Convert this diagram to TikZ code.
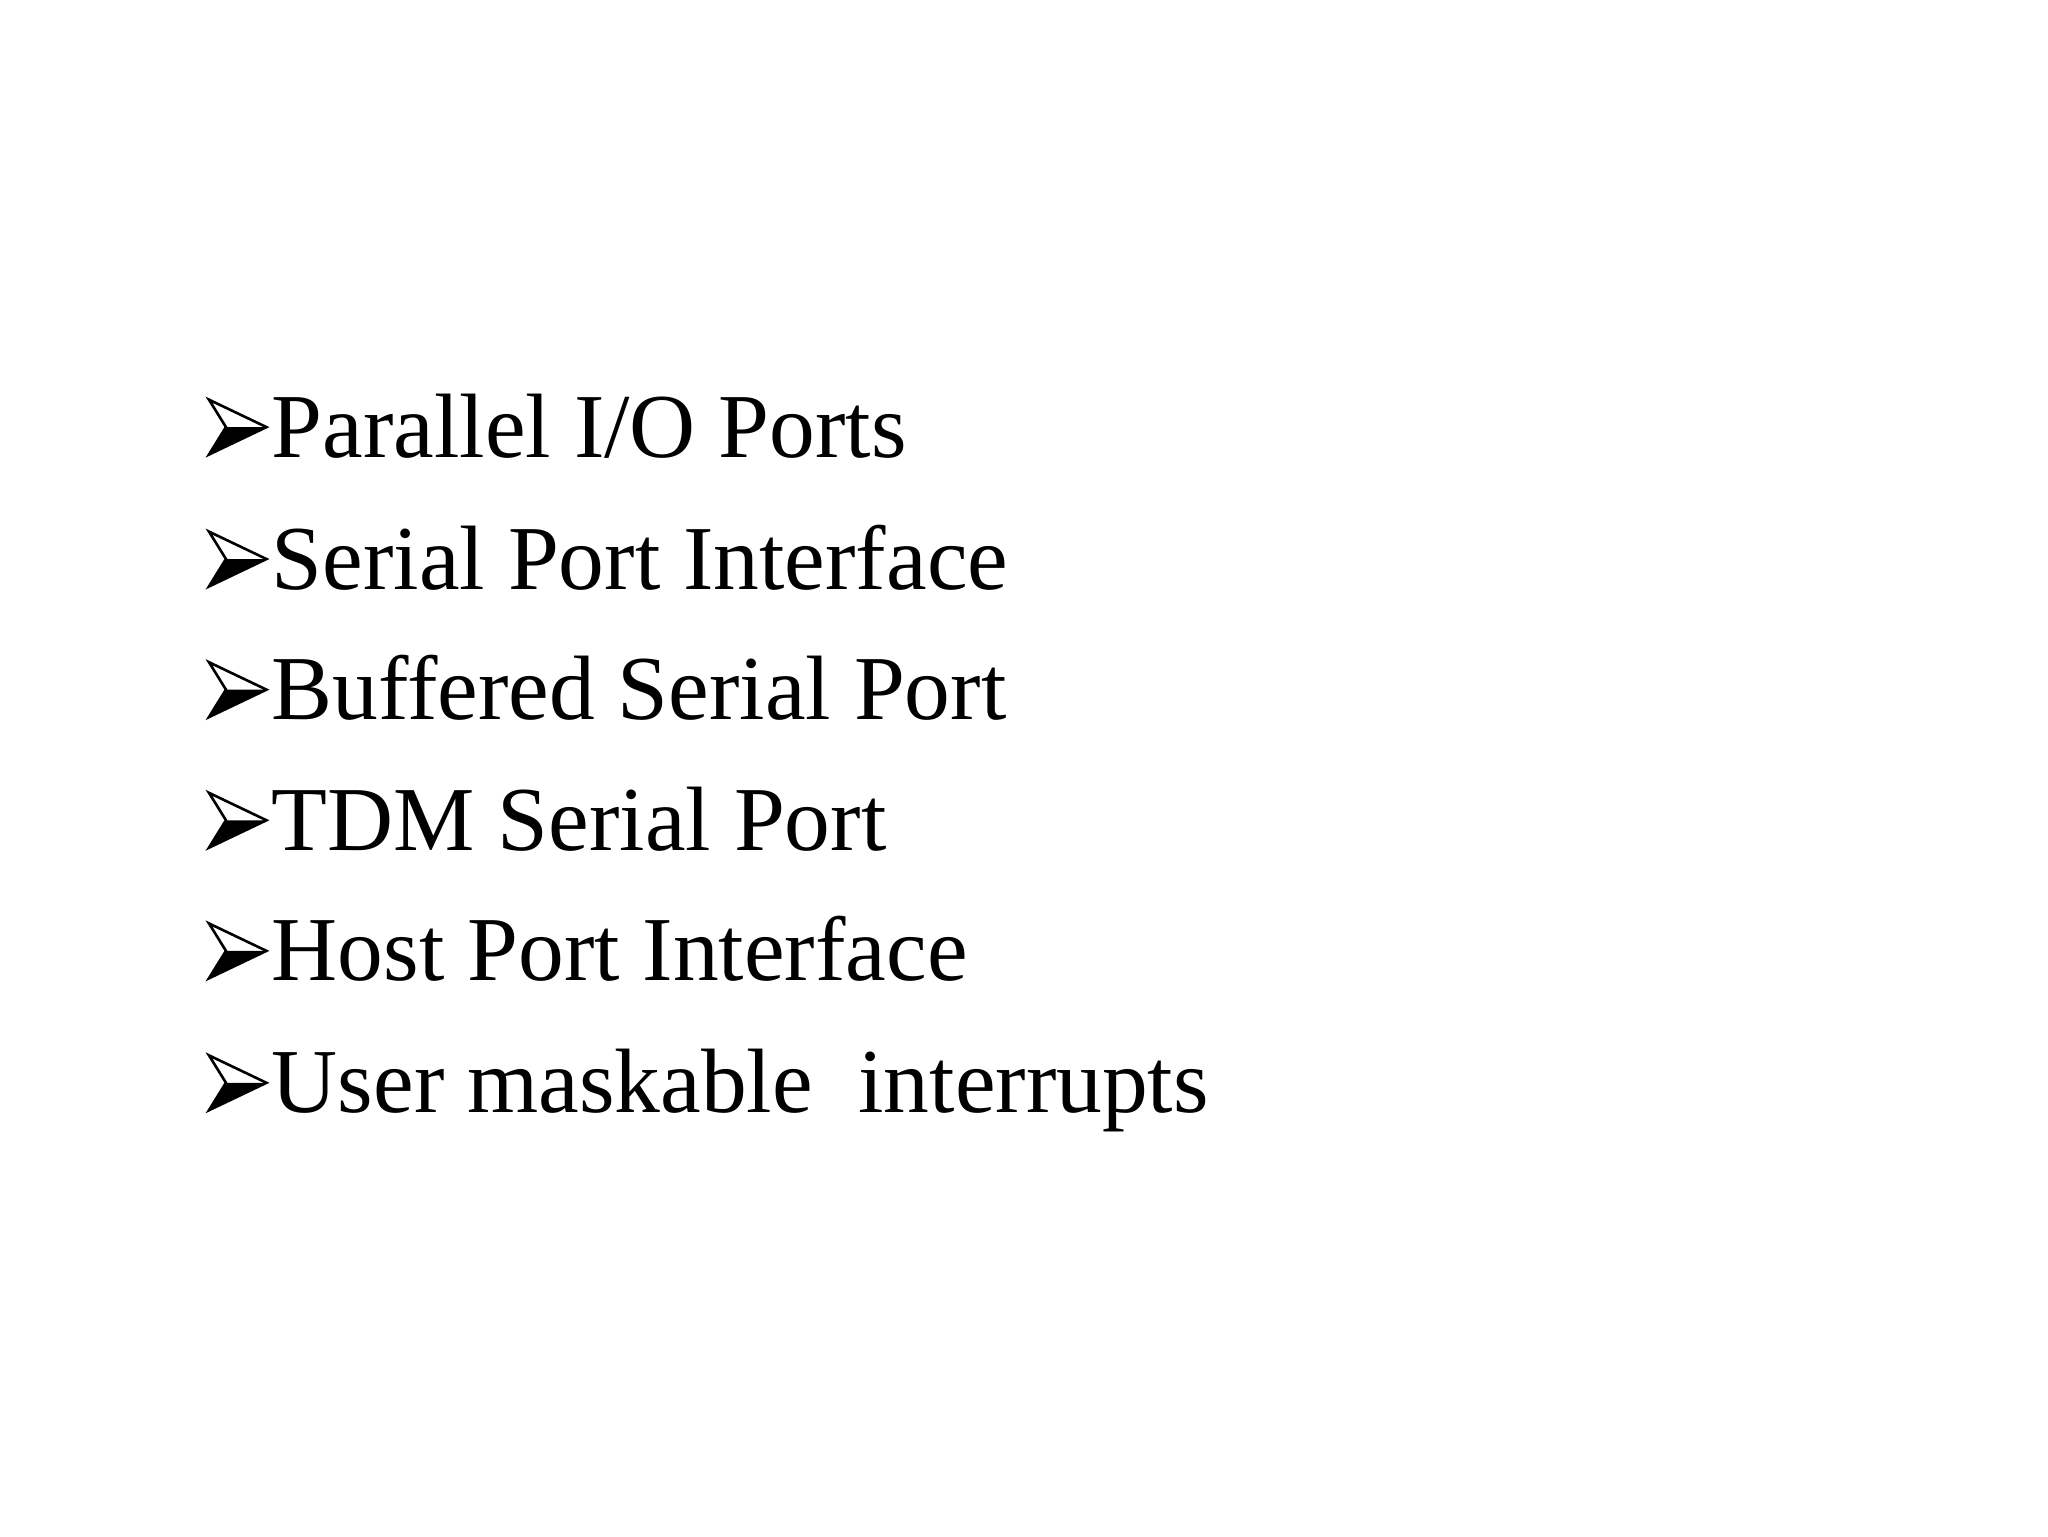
\documentclass[tikz,border=0pt]{standalone}
\usepackage{fontspec}
\setmainfont{Liberation Serif}
\begin{document}
\begin{tikzpicture}[x=1pt,y=-1pt,
  item/.style={anchor=base west,inner sep=0pt,font=\fontsize{70}{84}\selectfont}]
\useasboundingbox (0,0) rectangle (1568,1176);
\foreach \i/\b/\t in {1/350/{Parallel I/O Ports},2/451/{Serial Port Interface},3/551/{Buffered Serial Port},4/651/{TDM Serial Port},5/751/{Host Port Interface},6/852/{User maskable\ \ interrupts}}{
  \node[item] (t\i) at (208,\b) {\t};
  \coordinate (c\i) at (160,\b-2);
  \fill[black] ([shift={(44,-21)}]c\i) -- ([shift={(13,-21)}]c\i) -- (c\i) -- cycle;
  \draw[line width=2pt,line join=miter] ([shift={(44,-21)}]c\i) -- ([shift={(0,-42)}]c\i) -- ([shift={(13,-21)}]c\i) -- (c\i) -- cycle;
}
\end{tikzpicture}
\end{document}
